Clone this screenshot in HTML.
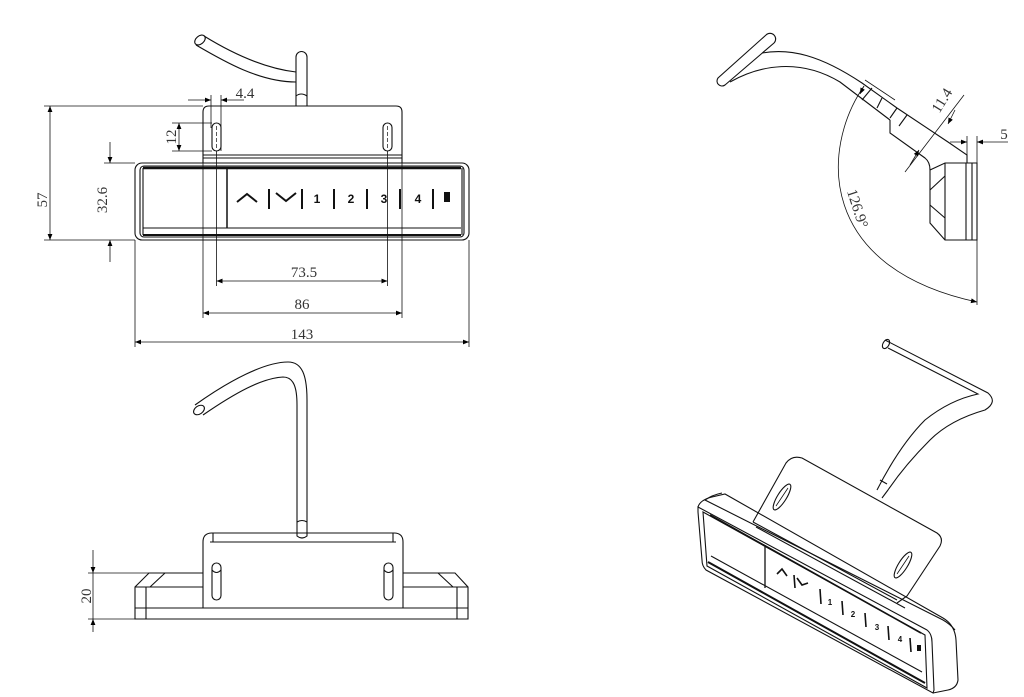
<!DOCTYPE html>
<html><head><meta charset="utf-8"><style>
html,body{margin:0;padding:0;background:#fff;}
svg{display:block;}
text{font-family:"Liberation Serif","DejaVu Serif",serif;fill:#333;}
.b{font-family:"Liberation Sans",sans-serif;font-weight:bold;fill:#111;}
</style></head><body>
<svg width="1024" height="697" viewBox="0 0 1024 697" xmlns="http://www.w3.org/2000/svg">
<defs>
<marker id="a" viewBox="0 0 10 10" refX="10" refY="5" markerWidth="8" markerHeight="6" orient="auto-start-reverse" markerUnits="userSpaceOnUse"><path d="M0,1 L10,5 L0,9 z" fill="#000"/></marker>
</defs>
<g fill="none" stroke="#111" stroke-width="1.1">
<!-- ===== TOP VIEW ===== -->
<ellipse cx="200" cy="40" rx="6" ry="4" transform="rotate(-40 200 40)"/>
<path d="M196 45 C225 62 260 82 296 82"/>
<path d="M204 36 C230 52 262 68 296 72"/>
<path d="M296 106 L296 57 A5.5 5.5 0 0 1 307 57 L307 106"/>
<path d="M296 96 Q301 92 307 96"/>
<path d="M203 163 L203 112 Q203 106 209 106 L396 106 Q402 106 402 112 L402 163"/>
<line x1="203" y1="155" x2="402" y2="155"/>
<line x1="203" y1="158" x2="402" y2="158"/>
<rect x="212" y="123" width="9" height="28" rx="4.5"/>
<rect x="383" y="123" width="9" height="28" rx="4.5"/>
<line x1="216.5" y1="126" x2="216.5" y2="148" stroke-dasharray="4 2" stroke-width="0.7"/>
<line x1="387.5" y1="126" x2="387.5" y2="148" stroke-dasharray="4 2" stroke-width="0.7"/>
<rect x="135" y="163" width="334" height="77" rx="7"/>
<rect x="140" y="166" width="324" height="71" rx="4"/>
<line x1="143" y1="168" x2="461" y2="168" stroke-width="2.5"/>
<line x1="143" y1="228" x2="461" y2="228"/>
<line x1="143" y1="235" x2="461" y2="235" stroke-width="2"/>
<line x1="143" y1="168" x2="143" y2="235"/>
<line x1="462" y1="168" x2="462" y2="235"/>
<line x1="227" y1="168" x2="227" y2="228" stroke-width="1.5"/>
<g stroke-width="2">
<path d="M237 202 L247 194 L257 202"/>
<line x1="269" y1="189" x2="269" y2="209"/>
<path d="M276 193 L286 201 L296 193"/>
<line x1="302" y1="189" x2="302" y2="209"/>
<line x1="334" y1="189" x2="334" y2="209"/>
<line x1="367" y1="189" x2="367" y2="209"/>
<line x1="400" y1="189" x2="400" y2="209"/>
<line x1="433" y1="189" x2="433" y2="209"/>
</g>
<g stroke-width="0.8">
<line x1="211" y1="95" x2="211" y2="128"/>
<line x1="221" y1="95" x2="221" y2="151"/>
<line x1="188" y1="100" x2="211" y2="100" marker-end="url(#a)"/>
<line x1="244" y1="100" x2="221" y2="100" marker-end="url(#a)"/>
<line x1="172" y1="123" x2="212" y2="123"/>
<line x1="172" y1="151" x2="212" y2="151"/>
<line x1="179" y1="123" x2="179" y2="151" marker-start="url(#a)" marker-end="url(#a)"/>
<line x1="44" y1="106" x2="203" y2="106"/>
<line x1="44" y1="240" x2="135" y2="240"/>
<line x1="50" y1="106" x2="50" y2="240" marker-start="url(#a)" marker-end="url(#a)"/>
<line x1="104" y1="163" x2="135" y2="163"/>
<line x1="110" y1="142" x2="110" y2="163" marker-end="url(#a)"/>
<line x1="110" y1="262" x2="110" y2="240" marker-end="url(#a)"/>
<line x1="216.5" y1="151" x2="216.5" y2="286"/>
<line x1="387.5" y1="151" x2="387.5" y2="286"/>
<line x1="203" y1="163" x2="203" y2="318"/>
<line x1="402" y1="163" x2="402" y2="318"/>
<line x1="135" y1="240" x2="135" y2="347"/>
<line x1="469" y1="240" x2="469" y2="347"/>
<line x1="216.5" y1="281" x2="387.5" y2="281" marker-start="url(#a)" marker-end="url(#a)"/>
<line x1="203" y1="313" x2="402" y2="313" marker-start="url(#a)" marker-end="url(#a)"/>
<line x1="135" y1="342" x2="469" y2="342" marker-start="url(#a)" marker-end="url(#a)"/>
</g>

<!-- ===== SIDE VIEW ===== -->
<path d="M766 35 A5 5 0 0 1 774 43 L725 85 A5 5 0 0 1 718 78 Z"/>
<path d="M762 53 C790 48 820 55 862 83 L897 108"/>
<path d="M730 82 C760 65 800 58 840 82 L890 120"/>
<line x1="865" y1="80" x2="895" y2="100" stroke-width="0.8"/>
<line x1="872" y1="88" x2="862" y2="100"/>
<line x1="882" y1="98" x2="877" y2="108"/>
<line x1="897" y1="108" x2="890" y2="118"/>
<line x1="907" y1="115" x2="899" y2="126"/>
<path d="M897 108 L948 142 L967 155 L967 163"/>
<path d="M890 120 L890 133 L925 158 Q930 162 930 170"/>
<path d="M930 170 L930 223 L945 240 L977 240 L977 163 L945 163 Z"/>
<line x1="945" y1="163" x2="945" y2="240"/>
<line x1="966" y1="163" x2="966" y2="240"/>
<line x1="972" y1="163" x2="972" y2="240"/>
<line x1="930" y1="190" x2="945" y2="176"/>
<line x1="930" y1="205" x2="945" y2="218"/>
<g stroke-width="0.8">
<line x1="964" y1="95" x2="905" y2="172"/>
<line x1="955" y1="110" x2="948" y2="124" marker-end="url(#a)"/>
<line x1="910" y1="165" x2="919" y2="150" marker-end="url(#a)"/>
<line x1="967" y1="136" x2="967" y2="163"/>
<line x1="977" y1="136" x2="977" y2="305"/>
<line x1="950" y1="142" x2="967" y2="142" marker-end="url(#a)"/>
<line x1="1008" y1="142" x2="977" y2="142" marker-end="url(#a)"/>
<path d="M864 86 C820 150 818 268 977 302" marker-end="url(#a)"/>
<line x1="864" y1="86" x2="860" y2="94" marker-end="url(#a)"/>
</g>

<!-- ===== FRONT VIEW ===== -->
<ellipse cx="199" cy="410" rx="6" ry="4" transform="rotate(-35 199 410)"/>
<path d="M195 405 C230 380 265 362 288 362 C302 362 307 375 307 400 L307 522"/>
<path d="M203 415 C235 393 262 378 283 377 C294 377 297 388 297 405 L297 522"/>
<path d="M297 522 Q302 519 307 522 M297 522 L297 536 Q302 540 307 536 L307 522"/>
<path d="M203 608 L203 542 Q203 533 212 533 L394 533 Q403 533 403 542 L403 608"/>
<line x1="213" y1="533" x2="213" y2="542"/>
<line x1="393" y1="533" x2="393" y2="542"/>
<line x1="210" y1="542" x2="396" y2="542"/>
<rect x="212" y="563" width="9" height="37" rx="4.5"/>
<rect x="384" y="563" width="9" height="37" rx="4.5"/>
<path d="M212 570 Q216.5 575 221 570 M384 570 Q388.5 575 393 570"/>
<path d="M203 573 L149 573 L135 587 L135 619 L468 619 L468 587 L455 573 L403 573"/>
<line x1="135" y1="587" x2="203" y2="587"/>
<line x1="403" y1="587" x2="468" y2="587"/>
<line x1="150" y1="587" x2="165" y2="573"/>
<line x1="453" y1="587" x2="438" y2="573"/>
<line x1="135" y1="608" x2="468" y2="608"/>
<line x1="146" y1="587" x2="146" y2="619"/>
<line x1="457" y1="587" x2="457" y2="619"/>
<g stroke-width="0.8">
<line x1="88" y1="573" x2="149" y2="573"/>
<line x1="88" y1="619" x2="135" y2="619"/>
<line x1="93" y1="550" x2="93" y2="573" marker-end="url(#a)"/>
<line x1="93" y1="632" x2="93" y2="619" marker-end="url(#a)"/>
<line x1="93" y1="573" x2="93" y2="619"/>
</g>

<!-- ===== ISO VIEW ===== -->
<path d="M885 340 L988 393 Q998 402 985 410 Q950 420 930 440 Q905 465 888 490 L882 498"/>
<path d="M888 348 L978 394 Q950 400 925 420 Q900 445 877 490"/>
<ellipse cx="886" cy="344" rx="3" ry="5" transform="rotate(30 886 344)"/>
<line x1="880" y1="480" x2="887" y2="484"/>
<path d="M753 522 L786 463 Q792 455 802 458 L937 533 Q944 538 940 546 L907 596 L897 603"/>
<line x1="753" y1="522" x2="897" y2="600"/>
<line x1="756" y1="527" x2="905" y2="608"/>
<ellipse cx="782" cy="497" rx="15" ry="4.5" transform="rotate(-58 782 497)"/>
<ellipse cx="903" cy="565" rx="15" ry="4.5" transform="rotate(-58 903 565)"/>
<line x1="776" y1="506" x2="788" y2="488" stroke-width="0.8"/>
<line x1="897" y1="574" x2="909" y2="556" stroke-width="0.8"/>
<path d="M722 493 Q712 495 705 500 L943 620 Q950 624 955 630"/>
<path d="M698 507 Q700 500 712 497 L725 494 L943 618 Q955 625 956 640 L958 680 Q957 688 948 690 L933 693"/>
<path d="M698 507 L927 630 Q932 634 932 642 L934 690 L933 693 L706 570 Q702 566 702 560 L698 512 Z"/>
<path d="M703 512 L925 635 L927 688 L707 566 Z"/>
<line x1="710" y1="515" x2="921" y2="633" stroke-width="1.6"/>
<line x1="711" y1="556" x2="922" y2="672"/>
<line x1="708" y1="562" x2="925" y2="683" stroke-width="2"/>
<line x1="765" y1="545" x2="765" y2="588" stroke-width="1.3"/>
<g stroke-width="1.6">
<path d="M777 574 L782 569 L787 576"/>
<line x1="794" y1="575" x2="795" y2="588"/>
<path d="M797 578 L802 585 L808 583"/>
<line x1="820" y1="589" x2="821" y2="604"/>
<line x1="842" y1="601" x2="843" y2="615"/>
<line x1="865" y1="613" x2="866" y2="627"/>
<line x1="888" y1="626" x2="889" y2="640"/>
<line x1="910" y1="638" x2="911" y2="652"/>
</g>
</g>
<text class="b" x="317" y="203" font-size="12" text-anchor="middle">1</text>
<text class="b" x="351" y="203" font-size="12" text-anchor="middle">2</text>
<text class="b" x="384" y="203" font-size="12" text-anchor="middle">3</text>
<text class="b" x="418" y="203" font-size="12" text-anchor="middle">4</text>
<rect x="444" y="192" width="6" height="10" fill="#111"/>
<text class="b" x="830" y="605" font-size="8" text-anchor="middle">1</text>
<text class="b" x="853" y="617" font-size="8" text-anchor="middle">2</text>
<text class="b" x="877" y="630" font-size="8" text-anchor="middle">3</text>
<text class="b" x="900" y="642" font-size="8" text-anchor="middle">4</text>
<rect x="917" y="645" width="4" height="6" fill="#111"/>
<text x="245" y="98" font-size="15" text-anchor="middle">4.4</text>
<text x="0" y="0" font-size="15" text-anchor="middle" transform="translate(176 137) rotate(-90)">12</text>
<text x="0" y="0" font-size="15" text-anchor="middle" transform="translate(47 200) rotate(-90)">57</text>
<text x="0" y="0" font-size="15" text-anchor="middle" transform="translate(107 200) rotate(-90)">32.6</text>
<text x="304" y="277" font-size="15" text-anchor="middle">73.5</text>
<text x="302" y="309" font-size="15" text-anchor="middle">86</text>
<text x="302" y="339" font-size="15" text-anchor="middle">143</text>
<text x="0" y="0" font-size="15" text-anchor="middle" transform="translate(91 596) rotate(-90)">20</text>
<text x="0" y="0" font-size="15" text-anchor="middle" transform="translate(946 103) rotate(-58)">11.4</text>
<text x="1004" y="139" font-size="15" text-anchor="middle">5</text>
<text x="0" y="0" font-size="15" text-anchor="middle" transform="translate(853 210) rotate(72)">126.9°</text>
</svg>
</body></html>
